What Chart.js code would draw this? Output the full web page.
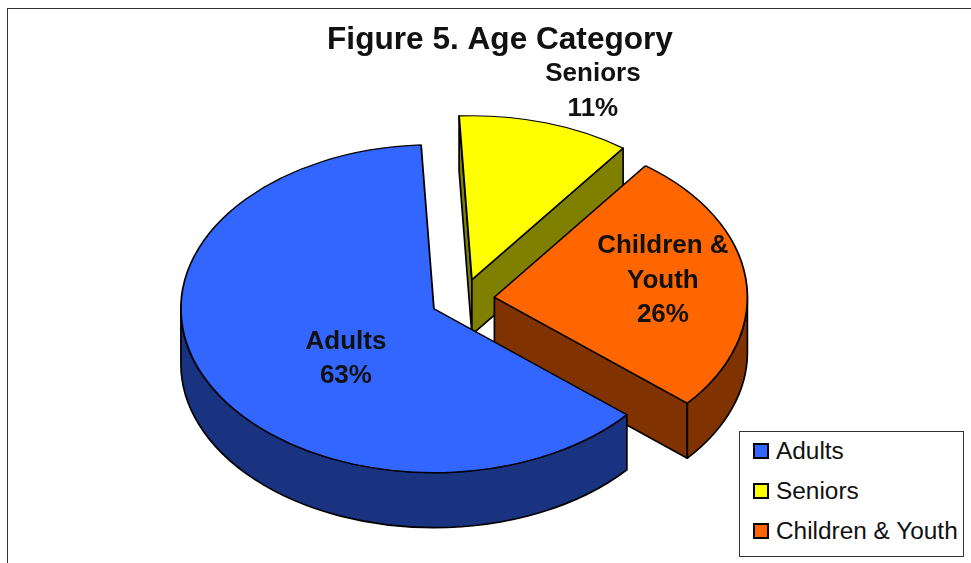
<!DOCTYPE html>
<html>
<head>
  <title>Figure 5. Age Category</title>
  <script src="https://cdn.jsdelivr.net/npm/chart.js"></script>
  <style>
    body { margin: 0; background: white; font-family: "Liberation Sans", Arial, sans-serif; }
    .page { position: relative; width: 971px; height: 563px; overflow: hidden; }
    .frame { position: absolute; left: 7px; top: 8px; width: 970px; height: 570px; border: 1.5px solid #333; }
    canvas { position: absolute; left: 0; top: 0; }
    .legend {
      position: absolute; left: 739px; top: 431px; width: 223px; height: 124px;
      border: 1.5px solid #333; background: white;
    }
    .legend-row { position: absolute; left: 13px; height: 24px; line-height: 24px; font-size: 24.4px; color: #111; white-space: nowrap; }
    .legend-row i { position: absolute; left: 0; top: 4px; width: 12px; height: 12px; border: 2px solid black; }
    .legend-row span { margin-left: 23px; }
  </style>
</head>
<body>
  <div class="page">
    <div class="frame"></div>
    <canvas id="pie" width="971" height="563"></canvas>
    <div class="legend" id="legend"></div>
  </div>

  <script>
    const categories = ['Adults', 'Seniors', 'Children & Youth'];
    const shares = [63, 11, 26];
    const sliceColors = ['#3366FF', '#FFFF00', '#FF6600'];
    const wallColors = ['#1A3380', '#808000', '#803300'];
    const labelLines = [['Adults'], ['Seniors'], ['Children &', 'Youth']];

    // look of the 3d pie, in pixels on the page
    const pieX = 462.6, pieY = 299.5;
    const tilt = 0.648, depth = 55, explode = 32, pieRadius = 253;
    const labelShift = [[-88, 50], [121, -188.5], [168.5, -16.5]];
    const drawOrder = [1, 2, 0]; // back slices first

    function sliceApex(arc) {
      const mid = (arc.startAngle + arc.endAngle) / 2;
      return {
        x: pieX + explode * Math.cos(mid),
        y: pieY + explode * Math.sin(mid) * tilt
      };
    }

    function rim(apex, angle, drop) {
      return {
        x: apex.x + pieRadius * Math.cos(angle),
        y: apex.y + pieRadius * Math.sin(angle) * tilt + drop
      };
    }

    function paintWall(ctx, color, trace) {
      ctx.beginPath();
      trace();
      ctx.closePath();
      ctx.fillStyle = color;
      ctx.fill();
      ctx.strokeStyle = 'black';
      ctx.lineWidth = 1.7;
      ctx.lineJoin = 'round';
      ctx.stroke();
    }

    function radialWall(ctx, apex, angle, color) {
      const p = rim(apex, angle, 0);
      paintWall(ctx, color, () => {
        ctx.moveTo(apex.x, apex.y);
        ctx.lineTo(p.x, p.y);
        ctx.lineTo(p.x, p.y + depth);
        ctx.lineTo(apex.x, apex.y + depth);
      });
    }

    function outerWall(ctx, apex, from, to, color) {
      paintWall(ctx, color, () => {
        ctx.ellipse(apex.x, apex.y, pieRadius, pieRadius * tilt, 0, from, to);
        ctx.ellipse(apex.x, apex.y + depth, pieRadius, pieRadius * tilt, 0, to, from, true);
      });
    }

    const pie3d = {
      id: 'pie3d',
      beforeDatasetDraw(chart, args) {
        const ctx = chart.ctx;
        drawOrder.forEach(i => {
          const arc = args.meta.data[i];
          const apex = sliceApex(arc);
          const s = arc.startAngle, e = arc.endAngle;

          // only the faces that look towards the viewer
          if (Math.cos(s) < 0) radialWall(ctx, apex, s, wallColors[i]);
          if (Math.cos(e) > 0) radialWall(ctx, apex, e, wallColors[i]);
          [0, 2 * Math.PI].forEach(turn => {
            const from = Math.max(s, turn), to = Math.min(e, turn + Math.PI);
            if (to > from) outerWall(ctx, apex, from, to, wallColors[i]);
          });

          // top face is the library's own arc, squashed
          ctx.save();
          ctx.translate(apex.x, apex.y);
          ctx.scale(1, tilt);
          ctx.translate(-arc.x, -arc.y);
          arc.draw(ctx);
          ctx.restore();
        });
        return false;
      },
      afterDatasetsDraw(chart) {
        const ctx = chart.ctx;
        const arcs = chart.getDatasetMeta(0).data;
        ctx.save();
        ctx.font = 'bold 26px "Liberation Sans"';
        ctx.fillStyle = '#111';
        ctx.textAlign = 'center';
        ctx.textBaseline = 'middle';
        arcs.forEach((arc, i) => {
          const apex = sliceApex(arc);
          const lines = labelLines[i].concat(shares[i] + '%');
          const x = apex.x + labelShift[i][0];
          const y = apex.y + labelShift[i][1] - (lines.length - 1) * 17.25;
          lines.forEach((line, n) => ctx.fillText(line, x, y + n * 34.5));
        });
        ctx.restore();
      }
    };

    new Chart(document.getElementById('pie').getContext('2d'), {
      type: 'pie',
      data: {
        labels: categories,
        datasets: [{
          data: shares,
          backgroundColor: sliceColors,
          borderColor: 'black',
          borderWidth: 1.8
        }]
      },
      options: {
        responsive: false,
        animation: false,
        rotation: 130.3,
        radius: pieRadius,
        layout: { padding: { left: 29 } },
        plugins: {
          legend: { display: false },
          tooltip: { enabled: false },
          title: {
            display: true,
            text: 'Figure 5. Age Category',
            color: '#111',
            font: { family: '"Liberation Sans"', size: 31.6, weight: 'bold' },
            padding: { top: 21, bottom: 0 }
          }
        }
      },
      plugins: [pie3d]
    });

    // legend box
    const legendBox = document.getElementById('legend');
    categories.forEach((name, i) => {
      const row = document.createElement('div');
      row.className = 'legend-row';
      row.style.top = (7 + i * 40) + 'px';
      row.innerHTML = '<i style="background:' + sliceColors[i] + '"></i><span></span>';
      row.querySelector('span').textContent = name;
      legendBox.appendChild(row);
    });
  </script>
</body>
</html>
